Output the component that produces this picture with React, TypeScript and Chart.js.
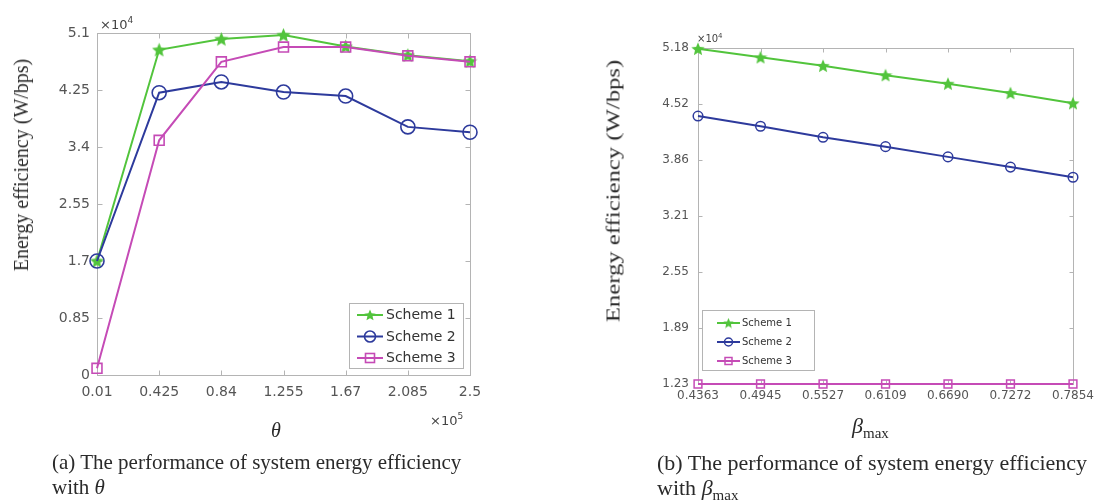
import React, { useEffect, useRef } from 'react';
import { Chart, registerables } from 'chart.js';

Chart.register(...registerables);

// ---------- Panel (a): energy efficiency vs theta (x 1e5), values x 1e4 ----------
const thetaValues = [0.01, 0.425, 0.84, 1.255, 1.67, 2.085, 2.5];
const thetaTickLabels = ['0.01', '0.425', '0.84', '1.255', '1.67', '2.085', '2.5'];
const effThetaYTicks = [0, 0.85, 1.7, 2.55, 3.4, 4.25, 5.1];
const effThetaYTickLabels = ['0', '0.85', '1.7', '2.55', '3.4', '4.25', '5.1'];
const thetaScheme1 = [1.70, 4.85, 5.01, 5.07, 4.90, 4.77, 4.68];
const thetaScheme2 = [1.70, 4.21, 4.37, 4.22, 4.16, 3.70, 3.62];
const thetaScheme3 = [0.10, 3.50, 4.67, 4.89, 4.89, 4.76, 4.67];

// ---------- Panel (b): energy efficiency vs beta_max, values x 1e4 ----------
const betaValues = [0.4363, 0.4945, 0.5527, 0.6109, 0.669, 0.7272, 0.7854];
const betaTickLabels = ['0.4363', '0.4945', '0.5527', '0.6109', '0.6690', '0.7272', '0.7854'];
const effBetaYTicks = [1.23, 1.89, 2.55, 3.21, 3.86, 4.52, 5.18];
const effBetaYTickLabels = ['1.23', '1.89', '2.55', '3.21', '3.86', '4.52', '5.18'];
const betaScheme1 = [5.17, 5.07, 4.97, 4.86, 4.76, 4.65, 4.53];
const betaScheme2 = [4.38, 4.26, 4.13, 4.02, 3.90, 3.78, 3.66];
const betaScheme3 = [1.23, 1.23, 1.23, 1.23, 1.23, 1.23, 1.23];

const schemeNames = ['Scheme 1', 'Scheme 2', 'Scheme 3'];

const GREEN = '#52c43c';
const BLUE = '#2d3a9c';
const MAGENTA = '#c54bb6';
const TICK_COLOR = '#555555';
const BOX_COLOR = '#b4b4b4';
const SANS = '"DejaVu Sans", "Liberation Sans", sans-serif';
const SERIF = '"Liberation Serif", "Times New Roman", serif';

function makeStar(size: number, color: string): HTMLCanvasElement {
  const c = document.createElement('canvas');
  c.width = size;
  c.height = size;
  const ctx = c.getContext('2d')!;
  const cx = size / 2;
  const cy = size / 2 + size * 0.04;
  const R = size / 2;
  const r = R * 0.45;
  ctx.beginPath();
  for (let i = 0; i < 10; i++) {
    const ang = -Math.PI / 2 + (i * Math.PI) / 5;
    const rad = i % 2 === 0 ? R : r;
    const px = cx + rad * Math.cos(ang);
    const py = cy + rad * Math.sin(ang);
    if (i === 0) ctx.moveTo(px, py);
    else ctx.lineTo(px, py);
  }
  ctx.closePath();
  ctx.fillStyle = color;
  ctx.fill();
  return c;
}

const boxPlugin = {
  id: 'matlabBox',
  beforeDatasetsDraw(chart: any, _args: any, o: any) {
    const { ctx, chartArea: a, scales } = chart;
    ctx.save();
    ctx.strokeStyle = BOX_COLOR;
    ctx.lineWidth = 1;
    const L = Math.round(a.left) + 0.5;
    const T = Math.round(a.top) + 0.5;
    const Rr = Math.round(a.right) + 0.5;
    const B = Math.round(a.bottom) + 0.5;
    ctx.strokeRect(L, T, Rr - L, B - T);
    const tl = o.tickLen;
    ctx.beginPath();
    scales.x.ticks.forEach((t: any) => {
      const x = Math.round(scales.x.getPixelForValue(t.value)) + 0.5;
      ctx.moveTo(x, B);
      ctx.lineTo(x, B - tl);
      ctx.moveTo(x, T);
      ctx.lineTo(x, T + tl);
    });
    scales.y.ticks.forEach((t: any) => {
      const y = Math.round(scales.y.getPixelForValue(t.value)) + 0.5;
      ctx.moveTo(L, y);
      ctx.lineTo(L + tl, y);
      ctx.moveTo(Rr, y);
      ctx.lineTo(Rr - tl, y);
    });
    ctx.stroke();
    ctx.restore();
  },
};

const legendPlugin = {
  id: 'schemeLegend',
  afterDatasetsDraw(chart: any, _args: any, o: any) {
    const ctx = chart.ctx;
    ctx.save();
    ctx.fillStyle = '#ffffff';
    ctx.fillRect(o.x, o.y, o.w, o.h);
    ctx.strokeStyle = BOX_COLOR;
    ctx.lineWidth = 1;
    ctx.strokeRect(o.x + 0.5, o.y + 0.5, o.w, o.h);
    ctx.font = o.font;
    ctx.textBaseline = 'middle';
    ctx.textAlign = 'left';
    chart.data.datasets.forEach((ds: any, i: number) => {
      const y = o.y + o.rowTop + i * o.rowH;
      const x0 = o.x + o.lineX0;
      const x1 = o.x + o.lineX1;
      const xm = (x0 + x1) / 2;
      ctx.strokeStyle = ds.borderColor;
      ctx.lineWidth = ds.borderWidth;
      ctx.beginPath();
      ctx.moveTo(x0, y);
      ctx.lineTo(x1, y);
      ctx.stroke();
      ctx.lineWidth = ds.pointBorderWidth;
      if (i === 0) {
        const s = o.starImg;
        ctx.drawImage(s, xm - s.width / 2, y - s.height / 2);
      } else if (ds.pointStyle === 'circle') {
        ctx.beginPath();
        ctx.arc(xm, y, o.circleR, 0, Math.PI * 2);
        ctx.stroke();
      } else {
        ctx.strokeRect(xm - o.rectHalf, y - o.rectHalf, 2 * o.rectHalf, 2 * o.rectHalf);
      }
      ctx.fillStyle = '#333333';
      ctx.fillText(ds.label, o.x + o.textX, y + 0.5);
    });
    ctx.restore();
  },
};

type Panel = {
  w: number;
  h: number;
  area: { left: number; top: number; right: number; bottom: number };
  xAxisH: number;
  xValues: number[];
  xLabels: string[];
  yTicks: number[];
  yLabels: string[];
  series: number[][];
  tickFont: number;
  xPad: number;
  yPad: number;
  star: number;
  circle: number;
  rect: number;
  lineW: number;
  markerLW: number;
  tickLen: number;
  legend: any;
};

function makeConfig(p: Panel): any {
  const starImg = makeStar(p.star, GREEN);
  const colors = [GREEN, BLUE, MAGENTA];
  const styles: any[] = [starImg, 'circle', 'rect'];
  const radii = [p.star / 2, p.circle, p.rect];
  const datasets = p.series.map((s, i) => ({
    label: schemeNames[i],
    data: p.xValues.map((x, j) => ({ x, y: s[j] })),
    borderColor: colors[i],
    backgroundColor: colors[i],
    pointStyle: styles[i],
    pointRadius: radii[i],
    pointBorderColor: colors[i],
    pointBackgroundColor: 'rgba(0,0,0,0)',
    pointBorderWidth: p.markerLW,
    borderWidth: p.lineW,
    tension: 0,
    clip: false,
    order: 2 - i,
  }));
  const legendOpts = { ...p.legend, starImg: makeStar(p.legend.starSize, GREEN) };
  return {
    type: 'line',
    data: { datasets },
    plugins: [boxPlugin, legendPlugin],
    options: {
      responsive: false,
      animation: false,
      events: [],
      layout: {
        padding: {
          left: 0,
          top: p.area.top,
          right: p.w - p.area.right,
          bottom: p.h - p.area.bottom - p.xAxisH,
        },
      },
      plugins: {
        legend: { display: false },
        tooltip: { enabled: false },
        matlabBox: { tickLen: p.tickLen },
        schemeLegend: legendOpts,
      },
      scales: {
        x: {
          type: 'linear',
          min: p.xValues[0],
          max: p.xValues[p.xValues.length - 1],
          grid: { display: false, drawTicks: false },
          border: { display: false },
          afterBuildTicks: (s: any) => {
            s.ticks = p.xValues.map((v) => ({ value: v }));
          },
          afterFit: (s: any) => {
            s.height = p.xAxisH;
            s.paddingLeft = 0;
            s.paddingRight = 0;
          },
          ticks: {
            autoSkip: false,
            maxRotation: 0,
            minRotation: 0,
            padding: p.xPad,
            color: TICK_COLOR,
            font: { family: SANS, size: p.tickFont },
            callback: (_v: any, i: number) => p.xLabels[i],
          },
        },
        y: {
          type: 'linear',
          min: p.yTicks[0],
          max: p.yTicks[p.yTicks.length - 1],
          grid: { display: false, drawTicks: false },
          border: { display: false },
          afterBuildTicks: (s: any) => {
            s.ticks = p.yTicks.map((v) => ({ value: v }));
          },
          afterFit: (s: any) => {
            s.width = p.area.left;
            s.paddingTop = 0;
            s.paddingBottom = 0;
          },
          ticks: {
            autoSkip: false,
            padding: p.yPad,
            color: TICK_COLOR,
            font: { family: SANS, size: p.tickFont },
            callback: (_v: any, i: number) => p.yLabels[i],
          },
        },
      },
    },
  };
}

const panelA: Panel = {
  w: 540,
  h: 502,
  area: { left: 97, top: 33, right: 470, bottom: 375 },
  xAxisH: 40,
  xValues: thetaValues,
  xLabels: thetaTickLabels,
  yTicks: effThetaYTicks,
  yLabels: effThetaYTickLabels,
  series: [thetaScheme1, thetaScheme2, thetaScheme3],
  tickFont: 14,
  xPad: 9,
  yPad: 7,
  star: 15,
  circle: 7,
  rect: 7,
  lineW: 2,
  markerLW: 1.6,
  tickLen: 5,
  legend: {
    x: 349, y: 303, w: 114, h: 65, rowTop: 12, rowH: 21.5,
    lineX0: 8, lineX1: 34, textX: 37, font: '14px ' + SANS,
    circleR: 5.5, rectHalf: 4.5, starSize: 12,
  },
};

const panelB: Panel = {
  w: 537,
  h: 502,
  area: { left: 138, top: 48, right: 513, bottom: 384 },
  xAxisH: 30,
  xValues: betaValues,
  xLabels: betaTickLabels,
  yTicks: effBetaYTicks,
  yLabels: effBetaYTickLabels,
  series: [betaScheme1, betaScheme2, betaScheme3],
  tickFont: 12,
  xPad: 5,
  yPad: 9,
  star: 14,
  circle: 4.8,
  rect: 5.5,
  lineW: 2,
  markerLW: 1.5,
  tickLen: 4,
  legend: {
    x: 142, y: 310, w: 112, h: 60, rowTop: 13, rowH: 19,
    lineX0: 15, lineX1: 38, textX: 40, font: '10px ' + SANS,
    circleR: 4, rectHalf: 3.5, starSize: 11,
  },
};

function PanelChart({ panel, left }: { panel: Panel; left: number }) {
  const ref = useRef<HTMLCanvasElement>(null);
  useEffect(() => {
    const chart = new Chart(ref.current as HTMLCanvasElement, makeConfig(panel));
    return () => chart.destroy();
  }, [panel]);
  return (
    <canvas
      ref={ref}
      width={panel.w}
      height={panel.h}
      style={{ position: 'absolute', left, top: 0, width: panel.w, height: panel.h }}
    />
  );
}

const abs = (extra: React.CSSProperties): React.CSSProperties => ({
  position: 'absolute',
  whiteSpace: 'nowrap',
  ...extra,
});

export default function App() {
  return (
    <div
      style={{
        position: 'absolute',
        left: 0,
        top: 0,
        width: 1097,
        height: 502,
        background: '#ffffff',
        overflow: 'hidden',
      }}
    >
      <PanelChart panel={panelA} left={0} />
      <PanelChart panel={panelB} left={560} />

      {/* Panel (a) texts */}
      <div
        style={abs({
          left: 21, top: 165, transform: 'translate(-50%,-50%) rotate(-90deg)',
          fontFamily: SERIF, fontSize: 20, lineHeight: '20px', color: '#2a2a2a',
        })}
      >
        Energy efficiency (W/bps)
      </div>
      <div style={abs({ left: 100, top: 18, fontFamily: SANS, fontSize: 13, lineHeight: '13px', color: '#444' })}>
        ×10<span style={{ fontSize: 9, position: 'relative', top: -6 }}>4</span>
      </div>
      <div style={abs({ left: 430, top: 414, fontFamily: SANS, fontSize: 13, lineHeight: '13px', color: '#444' })}>
        ×10<span style={{ fontSize: 9, position: 'relative', top: -6 }}>5</span>
      </div>
      <div
        style={abs({
          left: 276, top: 430, transform: 'translate(-50%,-50%)',
          fontFamily: SERIF, fontStyle: 'italic', fontSize: 20, lineHeight: '20px', color: '#2a2a2a',
        })}
      >
        θ
      </div>
      <div style={abs({ left: 52, top: 450, fontFamily: SERIF, fontSize: 21, lineHeight: '25px', color: '#2a2a2a' })}>
        (a) The performance of system energy efficiency
        <br />
        with <i>θ</i>
      </div>

      {/* Panel (b) texts */}
      <div
        style={abs({
          left: 613, top: 191, transform: 'translate(-50%,-50%) rotate(-90deg) scaleX(1.3)',
          fontFamily: SERIF, fontSize: 19, lineHeight: '19px', color: '#2a2a2a',
        })}
      >
        Energy efficiency (W/bps)
      </div>
      <div style={abs({ left: 697, top: 34, fontFamily: SANS, fontSize: 10, lineHeight: '10px', color: '#444' })}>
        ×10<span style={{ fontSize: 7, position: 'relative', top: -4 }}>4</span>
      </div>
      <div
        style={abs({
          left: 852, top: 415, fontFamily: SERIF, fontSize: 22, lineHeight: '22px', color: '#2a2a2a',
        })}
      >
        <i>β</i>
        <span style={{ fontSize: 15, position: 'relative', top: 5 }}>max</span>
      </div>
      <div style={abs({ left: 657, top: 450, fontFamily: SERIF, fontSize: 22, lineHeight: '25px', color: '#2a2a2a' })}>
        (b) The performance of system energy efficiency
        <br />
        with <i>β</i>
        <span style={{ fontSize: 15, position: 'relative', top: 5 }}>max</span>
      </div>
    </div>
  );
}
